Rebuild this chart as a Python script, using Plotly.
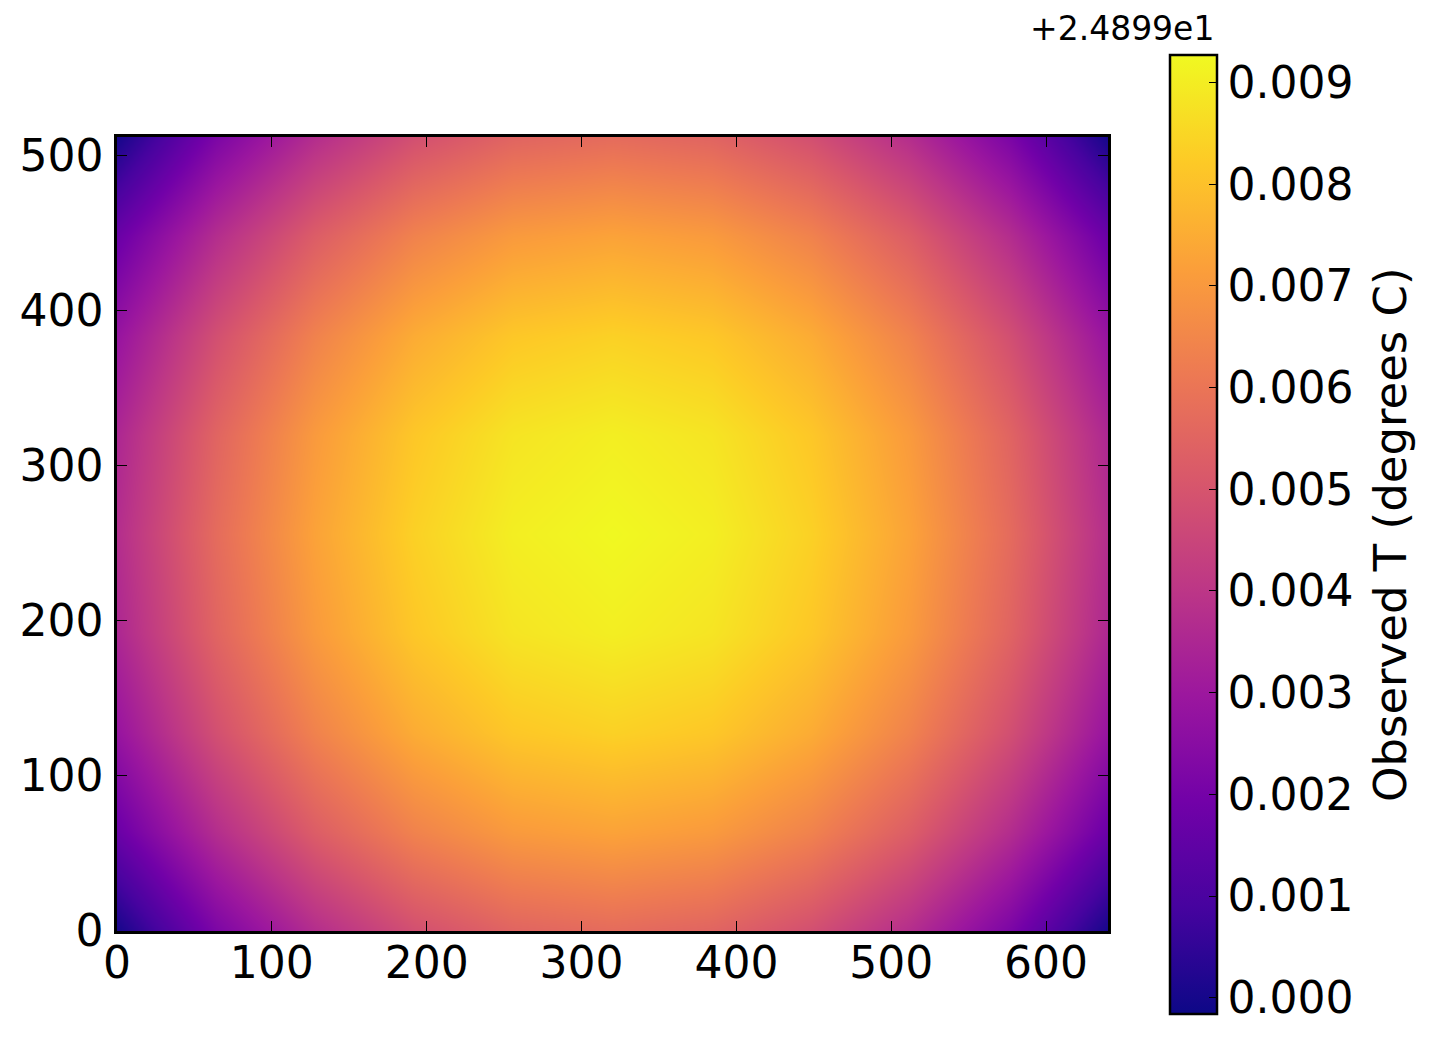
import plotly.graph_objects as go

# Grid coordinates (pixel positions of sampled values)
x_pos = [0, 64, 128, 192, 256, 320, 384, 448, 512, 576, 640]
y_pos = [0, 64, 128, 192, 256, 320, 384, 448, 512]

# Observed T relative to offset (+2.4899e1)
offset_label = "+2.4899e1"
cbar_title = "Observed T (degrees C)"
row_y0 = [0.0000, 0.00217, 0.00372, 0.00483, 0.00549, 0.00571, 0.00549, 0.00483, 0.00372, 0.00217, 0.0000]
row_y64 = [0.00173, 0.00372, 0.00527, 0.00638, 0.00704, 0.00726, 0.00704, 0.00638, 0.00527, 0.00372, 0.00173]
row_y128 = [0.00284, 0.00483, 0.00637, 0.00748, 0.00815, 0.00837, 0.00815, 0.00748, 0.00637, 0.00483, 0.00284]
row_y192 = [0.00350, 0.00549, 0.00704, 0.00815, 0.00881, 0.00903, 0.00881, 0.00815, 0.00704, 0.00549, 0.00350]
row_y256 = [0.00372, 0.00571, 0.00726, 0.00837, 0.00903, 0.00925, 0.00903, 0.00837, 0.00726, 0.00571, 0.00372]
row_y320 = [0.00350, 0.00549, 0.00704, 0.00815, 0.00881, 0.00903, 0.00881, 0.00815, 0.00704, 0.00549, 0.00350]
row_y384 = [0.00284, 0.00483, 0.00637, 0.00748, 0.00815, 0.00837, 0.00815, 0.00748, 0.00637, 0.00483, 0.00284]
row_y448 = [0.00173, 0.00372, 0.00527, 0.00638, 0.00704, 0.00726, 0.00704, 0.00638, 0.00527, 0.00372, 0.00173]
row_y512 = [0.0000, 0.00217, 0.00372, 0.00483, 0.00549, 0.00571, 0.00549, 0.00483, 0.00372, 0.00217, 0.0000]
z_rows = [row_y0, row_y64, row_y128, row_y192, row_y256, row_y320, row_y384, row_y448, row_y512]

z_min, z_max = -0.00016, 0.00927
x_ticks = [0, 100, 200, 300, 400, 500, 600]
y_ticks = [0, 100, 200, 300, 400, 500]
cb_ticks = [0.000, 0.001, 0.002, 0.003, 0.004, 0.005, 0.006, 0.007, 0.008, 0.009]

W, H = 1433, 1040
PL, PR, PT, PB = 117, 1108, 137, 931
PW, PH = PR - PL, PB - PT
FONT = "DejaVu Sans"
FS = 44

fig = go.Figure(
    go.Heatmap(
        x=x_pos, y=y_pos, z=z_rows,
        colorscale="Plasma", zmin=z_min, zmax=z_max, zsmooth="best",
        hoverinfo="skip",
        colorbar=dict(
            xref="paper", yref="paper",
            x=(1170 - PL) / PW, xanchor="left",
            y=(PB - 55) / PH, yanchor="top",
            lenmode="fraction", len=959 / PH,
            thickness=47, xpad=0, ypad=0,
            outlinecolor="black", outlinewidth=2.5,
            ticks="inside", ticklen=9, tickwidth=1.2, tickcolor="black",
            tickvals=cb_ticks, tickformat=".3f",
            tickfont=dict(family=FONT, size=FS, color="black"),
        ),
    )
)

axis_common = dict(
    showgrid=False, zeroline=False,
    showline=True, linecolor="black", linewidth=2.5, mirror="ticks",
    ticks="inside", ticklen=10, tickwidth=1.2, tickcolor="black",
    tickfont=dict(family=FONT, size=FS, color="black"),
)

fig.update_layout(
    width=W, height=H,
    margin=dict(l=PL, r=W - PR, t=PT, b=H - PB),
    paper_bgcolor="white", plot_bgcolor="white",
    xaxis=dict(range=[0, 640], tickvals=x_ticks, ticklabelstandoff=-9, **axis_common),
    yaxis=dict(range=[0, 512], tickvals=y_ticks, ticklabelstandoff=2, **axis_common),
    annotations=[
        dict(
            text=offset_label, xref="paper", yref="paper",
            x=(1216 - PL) / PW, y=(PB - 50) / PH,
            xanchor="right", yanchor="bottom", showarrow=False,
            font=dict(family=FONT, size=33, color="black"),
        ),
        dict(
            text=cbar_title, xref="paper", yref="paper",
            x=(1390 - PL) / PW, y=(PB - 535) / PH,
            xanchor="center", yanchor="middle", showarrow=False,
            textangle=-90,
            font=dict(family=FONT, size=45, color="black"),
        ),
    ],
)

fig.write_html("out.html")
